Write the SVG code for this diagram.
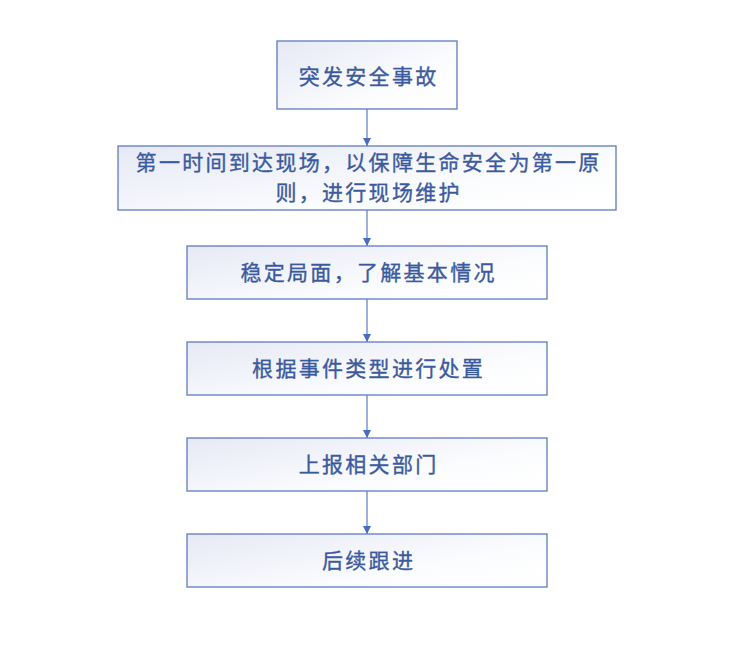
<svg xmlns="http://www.w3.org/2000/svg" width="747" height="652" viewBox="0 0 747 652">
<style>
.box{fill:url(#g);stroke:#5f7bbf;stroke-width:1.3}
.t{font-family:"Liberation Sans","Noto Sans CJK SC",sans-serif;font-size:21px;fill:#3b5a9e;stroke:#3b5a9e;stroke-width:0.35;text-anchor:middle;dominant-baseline:central;letter-spacing:2.3px}
.c{stroke:#7d95d0;stroke-width:1.5;fill:none}
</style>
<defs>
<linearGradient id="g" x1="0" y1="0" x2="1" y2="0.8">
<stop offset="0" stop-color="#e6e9f5"/>
<stop offset="0.7" stop-color="#fbfcfe"/>
<stop offset="1" stop-color="#ffffff"/>
</linearGradient>
<marker id="a" viewBox="0 0 10 10" refX="10" refY="5" markerWidth="8" markerHeight="8" markerUnits="userSpaceOnUse" orient="auto">
<path d="M0,0 L10,5 L0,10 z" fill="#4a6bc0"/>
</marker>
</defs>
<rect width="747" height="652" fill="#ffffff"/>
<g id="connectors">
<line class="c" x1="367" y1="109" x2="367" y2="146" marker-end="url(#a)"/>
<line class="c" x1="367" y1="210" x2="367" y2="246" marker-end="url(#a)"/>
<line class="c" x1="367" y1="299" x2="367" y2="342" marker-end="url(#a)"/>
<line class="c" x1="367" y1="395" x2="367" y2="438" marker-end="url(#a)"/>
<line class="c" x1="367" y1="491" x2="367" y2="534" marker-end="url(#a)"/>
</g>
<g id="n1">
<rect class="box" x="277" y="41" width="180" height="68"/>
<text class="t" x="368.6" y="76">突发安全事故</text>
</g>
<g id="n2">
<rect class="box" x="118" y="146" width="498" height="64"/>
<text class="t" x="368.6" y="162">第一时间到达现场，以保障生命安全为第一原</text>
<text class="t" x="368.6" y="192">则，进行现场维护</text>
</g>
<g id="n3">
<rect class="box" x="187" y="246" width="360" height="53"/>
<text class="t" x="368.6" y="272">稳定局面，了解基本情况</text>
</g>
<g id="n4">
<rect class="box" x="187" y="342" width="360" height="53"/>
<text class="t" x="368.6" y="368">根据事件类型进行处置</text>
</g>
<g id="n5">
<rect class="box" x="187" y="438" width="360" height="53"/>
<text class="t" x="368.6" y="464">上报相关部门</text>
</g>
<g id="n6">
<rect class="box" x="187" y="534" width="360" height="53"/>
<text class="t" x="368.6" y="560">后续跟进</text>
</g>
</svg>
